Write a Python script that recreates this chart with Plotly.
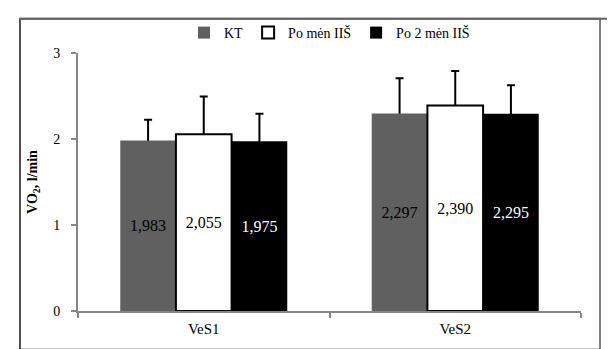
import plotly.graph_objects as go

categories = ["VeS1", "VeS2"]
series_names = ["KT", "Po mėn IIŠ", "Po 2 mėn IIŠ"]
kt_values = [1.983, 2.297]
po_men_values = [2.055, 2.390]
po_2men_values = [1.975, 2.295]
kt_err = [0.24, 0.41]
po_men_err = [0.44, 0.40]
po_2men_err = [0.32, 0.33]
y_ticks = [0, 1, 2, 3]

W, H = 615, 349
L, R, T, B = 70, 42, 45, 46
pw, ph = W - L - R, H - T - B

def px_x(p):
    return (p - L) / pw

def px_y(p):
    return (H - B - p) / ph

FONT = "Liberation Serif"

def fmt(v):
    return f"{v:.3f}".replace(".", ",")

specs = [
    ("g1", series_names[0], kt_values, kt_err, "#606060", "#606060", 0, "#000000"),
    ("g2", series_names[1], po_men_values, po_men_err, "#ffffff", "#000000", 2, "#000000"),
    ("g3", series_names[2], po_2men_values, po_2men_err, "#000000", "#000000", 0, "#ffffff"),
]

fig = go.Figure()
# error bar carriers (drawn underneath the visible bars so only the upper half shows)
for grp, name, vals, errs, fill, line, lw, tcol in specs:
    fig.add_trace(go.Bar(
        name=name, x=categories, y=vals, offsetgroup=grp,
        marker=dict(color="rgba(0,0,0,0)", line=dict(width=0)),
        showlegend=False, hoverinfo="skip",
        error_y=dict(type="data", array=errs, symmetric=True,
                     color="#000000", thickness=2, width=4),
    ))
for grp, name, vals, errs, fill, line, lw, tcol in specs:
    fig.add_trace(go.Bar(
        name=name, x=categories, y=vals, offsetgroup=grp,
        marker=dict(color=fill, line=dict(color=line, width=lw)),
        text=[fmt(v) for v in vals],
        textposition="inside", insidetextanchor="middle", textangle=0,
        textfont=dict(family=FONT, size=16, color=tcol),
    ))

border = "#808080"
shapes = [
    dict(type="rect", xref="paper", yref="paper",
         x0=px_x(12), x1=px_x(592), y0=px_y(341.5), y1=px_y(10.7),
         line=dict(color=border, width=2)),
    dict(type="line", xref="paper", yref="paper",
         x0=px_x(12), x1=px_x(12), y0=px_y(349), y1=px_y(10.7),
         line=dict(color="#404040", width=1.5)),
    dict(type="line", xref="paper", yref="paper",
         x0=px_x(12), x1=px_x(615), y0=px_y(10.7), y1=px_y(10.7),
         line=dict(color="#606060", width=2)),
    dict(type="line", xref="paper", yref="paper",
         x0=px_x(614), x1=px_x(614), y0=px_y(349), y1=px_y(10.7),
         line=dict(color="#b0b0b0", width=1)),
]

fig.update_layout(
    width=W, height=H,
    margin=dict(l=L, r=R, t=T, b=B, autoexpand=False),
    paper_bgcolor="white", plot_bgcolor="white",
    barmode="group", bargap=0.336, bargroupgap=0,
    font=dict(family=FONT, size=14, color="#000000"),
    showlegend=True,
    legend=dict(orientation="h", x=0.5, xanchor="center",
                y=px_y(25), yanchor="middle",
                font=dict(family=FONT, size=14, color="#000000"),
                itemwidth=30, bgcolor="rgba(0,0,0,0)"),
    xaxis=dict(type="category", showline=True, linecolor="#868686", linewidth=2,
               ticks="outside", tickson="boundaries", ticklen=5, tickcolor="#868686",
               tickwidth=2, showgrid=False, zeroline=False, ticklabelstandoff=3,
               tickfont=dict(family=FONT, size=15)),
    yaxis=dict(range=[0, 3], tickvals=y_ticks, showline=True, linecolor="#868686",
               linewidth=2, ticks="outside", ticklen=5, tickcolor="#868686", tickwidth=2,
               showgrid=False, zeroline=False, ticklabelstandoff=8,
               tickfont=dict(family=FONT, size=14),
               title=dict(text="<b>VO<sub>2</sub>, l/min</b>", standoff=12,
                          font=dict(family=FONT, size=14))),
    shapes=shapes,
)

fig.write_html("out.html")
